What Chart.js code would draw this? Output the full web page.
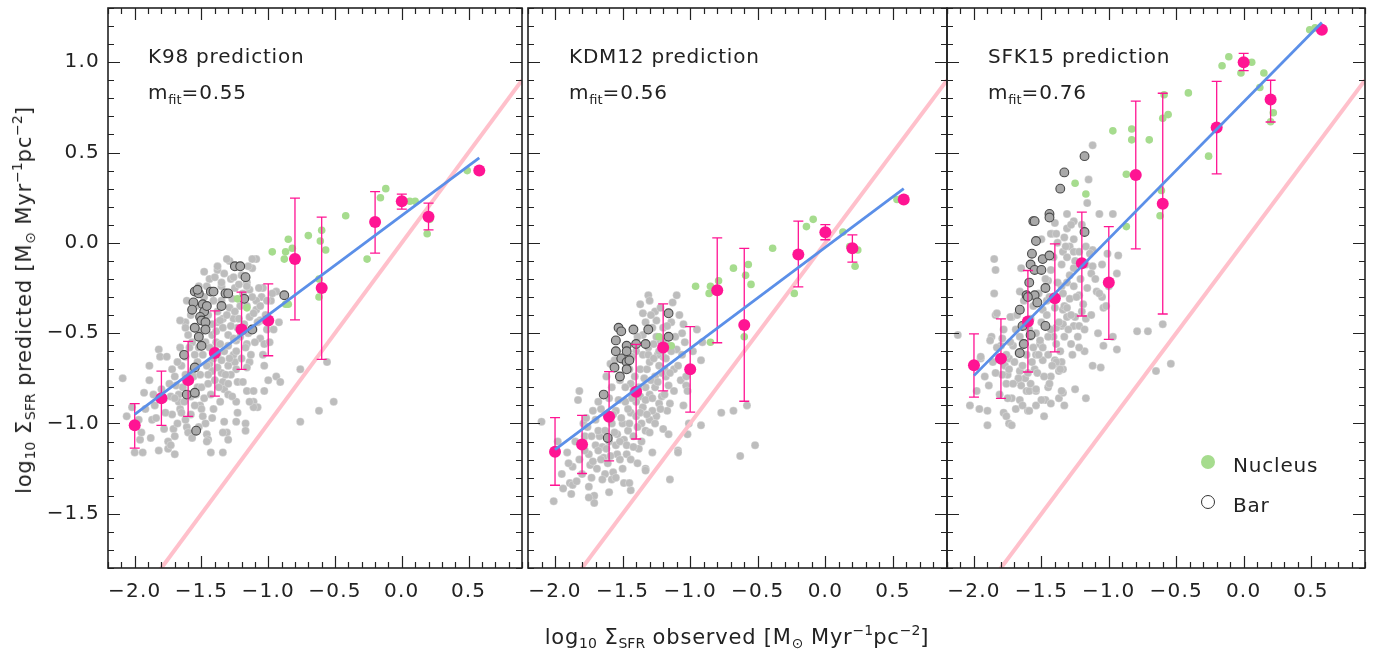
<!DOCTYPE html>
<html><head><meta charset="utf-8">
<script src="https://cdn.jsdelivr.net/npm/chart.js@4.4.1/dist/chart.umd.min.js"></script>
<style>
body{margin:0;background:#fff;}
#wrap{position:relative;width:1384px;height:650px;overflow:hidden;font-family:"DejaVu Sans",sans-serif;color:#222;}
canvas{position:absolute;top:0;}
.t{position:absolute;font-size:20px;line-height:20px;white-space:nowrap;letter-spacing:0.8px;}
.t sub{font-size:13px;vertical-align:-5px;letter-spacing:0;}
.ax{position:absolute;font-size:21px;line-height:21px;white-space:nowrap;letter-spacing:0.8px;}
.ax sub{font-size:14px;vertical-align:-4px;letter-spacing:0;}
.ax sup{font-size:14px;vertical-align:9px;letter-spacing:0;}
.dot{position:absolute;border-radius:50%;}
</style></head>
<body><div id="wrap">
<canvas id="c1" width="530" height="650" style="left:0px"></canvas>
<canvas id="c2" width="440" height="650" style="left:520px"></canvas>
<canvas id="c3" width="444" height="650" style="left:940px"></canvas>
<div class="t" style="left:148px;top:46px">K98 prediction</div>
<div class="t" style="left:148px;top:82px">m<sub>fit</sub>=0.55</div>
<div class="t" style="left:569px;top:46px">KDM12 prediction</div>
<div class="t" style="left:569px;top:82px">m<sub>fit</sub>=0.56</div>
<div class="t" style="left:988px;top:46px">SFK15 prediction</div>
<div class="t" style="left:988px;top:82px">m<sub>fit</sub>=0.76</div>
<div class="dot" style="left:1201px;top:455px;width:14px;height:14px;background:#a6dc8e"></div>
<div class="t" style="left:1233px;top:455px">Nucleus</div>
<div class="dot" style="left:1201px;top:495px;width:12px;height:12px;border:1.3px solid #333;background:#fff"></div>
<div class="t" style="left:1233px;top:495px">Bar</div>
<div class="ax" style="left:737px;top:620px;transform:translateX(-50%)">log<sub>10</sub> Σ<sub>SFR</sub> observed [M<sub>⊙</sub> Myr<sup>−1</sup>pc<sup>−2</sup>]</div>
<div class="ax" style="left:24px;top:300px;transform:translate(-50%,-50%) rotate(-90deg)">log<sub>10</sub> Σ<sub>SFR</sub> predicted [M<sub>⊙</sub> Myr<sup>−1</sup>pc<sup>−2</sup>]</div>
</div>
<script>
// ---- axis ticks ----
const xMajorTicks = [-2.0,-1.5,-1.0,-0.5,0.0,0.5];
const yMajorTicks = [-1.5,-1.0,-0.5,0.0,0.5,1.0];
const xRange = [-2.2, 0.9];
const yRange = [-1.8, 1.3];

// ---- binned means (magenta) ----
const binX = [-2.0,-1.8,-1.6,-1.4,-1.2,-1.0,-0.8,-0.6,-0.2,0.0,0.2,0.58];
const p1Mean = [-1.01,-0.86,-0.76,-0.61,-0.48,-0.43,-0.09,-0.25,0.115,0.23,0.145,0.40];
const p1Hi = [-0.89,-0.71,-0.545,-0.377,-0.273,-0.227,0.248,0.142,0.284,0.27,0.22,null];
const p1Lo = [-1.136,-1.01,-0.961,-0.848,-0.70,-0.625,-0.427,-0.645,-0.057,0.187,0.072,null];
const p2Mean = [-1.157,-1.116,-0.963,-0.824,-0.58,-0.70,-0.262,-0.455,-0.065,0.059,-0.03,0.24];
const p2Hi = [-0.968,-0.955,-0.713,-0.562,-0.338,-0.464,0.028,-0.031,0.12,0.101,0.044,null];
const p2Lo = [-1.342,-1.277,-1.207,-1.086,-0.82,-0.937,-0.553,-0.877,-0.244,0.017,-0.107,null];
const p3Mean = [-0.678,-0.641,-0.436,-0.307,-0.113,-0.22,0.375,0.216,0.639,1.0,0.794,1.18];
const p3Hi = [-0.504,-0.421,-0.153,-0.006,0.17,0.09,0.785,0.828,0.894,1.049,0.90,null];
const p3Lo = [-0.854,-0.861,-0.715,-0.604,-0.405,-0.534,-0.033,-0.394,0.382,0.953,0.669,null];

// ---- fit lines and one-to-one line ----
const fitX = [-2.0, 0.58];
const p1Fit = [-0.95, 0.47];
const p2Fit = [-1.145, 0.30];
const p3Fit = [-0.735, 1.22];
const oneX = [-2.2, 0.9];
const oneY = [-2.2, 0.9];

// ---- panel 1 scatter ----
const p1Grey = [[-2.09,-0.75],[-2.06,-0.96],[-2.02,-0.91],[-2.00,-1.16],[-1.96,-1.09],[-1.95,-1.05],[-1.94,-1.16],[-1.89,-0.68],[-1.89,-0.76],[-1.87,-0.98],[-1.88,-1.08],[-1.85,-0.90],[-1.82,-0.59],[-1.81,-0.63],[-1.82,-1.15],[-1.76,-0.63],[-1.75,-1.10],[-1.75,-1.14],[-1.73,-0.85],[-1.72,-0.95],[-1.71,-1.03],[-1.70,-1.07],[-1.70,-1.17],[-1.69,-0.79],[-1.67,-0.84],[-1.67,-0.88],[-1.66,-0.92],[-1.65,-0.94],[-1.61,-1.02],[-1.60,-1.05],[-1.57,-0.55],[-1.56,-0.47],[-1.54,-0.84],[-1.53,-0.80],[-1.51,-0.90],[-1.50,-0.92],[-1.49,-0.96],[-1.47,-1.00],[-1.46,-1.06],[-1.45,-1.09],[-1.44,-0.67],[-1.42,-0.71],[-1.42,-0.51],[-1.40,-0.59],[-1.39,-0.55],[-1.38,-0.15],[-1.35,-0.72],[-1.34,-0.77],[-1.33,-0.81],[-1.30,-0.84],[-1.29,-0.10],[-1.28,-0.20],[-1.26,-0.62],[-1.25,-0.66],[-1.24,-0.70],[-1.24,-0.88],[-1.23,-0.94],[-1.33,-0.99],[-1.31,-1.05],[-1.30,-1.09],[-1.34,-1.16],[-1.42,-0.97],
[-1.62,-0.44],[-1.60,-0.51],[-1.50,-0.49],[-1.38,-0.44],[-1.45,-0.40],[-1.34,-0.42],[-1.55,-0.62],[-1.45,-0.73],[-1.38,-0.62],[-1.30,-0.68],[-1.28,-0.73],[-1.23,-0.77],[-1.57,-0.71],[-1.65,-0.68],[-1.62,-0.73],[-1.70,-0.86],[-1.77,-0.94],[-1.80,-0.81],[-1.30,-0.51],[-1.24,-0.54],[-1.35,-0.24],[-1.25,-0.25],[-1.21,-0.35],[-1.26,-0.42],[-1.23,-0.47],[-1.35,-0.32],[-1.38,-0.38],
[-1.09,-0.09],[-1.12,-0.14],[-1.04,-0.25],[-1.16,-0.22],[-1.14,-0.26],[-0.94,-0.27],[-1.05,-0.30],[-0.98,-0.32],[-1.09,-0.37],[-1.14,-0.41],[-1.06,-0.43],[-0.92,-0.44],[-1.11,-0.48],[-1.01,-0.48],[-0.96,-0.48],[-1.06,-0.53],[-1.03,-0.56],[-1.16,-0.56],[-1.14,-0.66],[-1.03,-0.68],[-1.16,-0.69],[-0.94,-0.74],[-1.00,-0.76],[-0.91,-0.77],[-1.19,-0.77],[-1.16,-0.82],[-1.11,-0.82],[-1.03,-0.82],[-1.11,-0.88],[-1.08,-0.91],[-0.76,-0.70],[-0.56,-0.66],[-0.51,-0.88],[-0.62,-0.93],
[-0.76,-0.99],[-1.11,-0.91],[-1.17,-1.00],[-1.17,-1.04],[-1.24,-0.99],[-1.14,-0.88],[-1.43,-1.16],[-1.34,-1.05],[-1.46,-1.10],
[-1.31,-0.09],[-1.38,-0.13],[-1.12,-0.09],[-1.15,-0.13],[-1.26,-0.19],[-1.35,-0.22],[-1.22,-0.23],[-1.16,-0.24],[-1.07,-0.25],[-0.97,-0.28],[-1.09,-0.32],[-1.01,-0.32],[-1.11,-0.39],[-1.06,-0.43],[-1.46,-0.24],[-1.52,-0.24],[-1.61,-0.32],[-1.66,-0.43],[-1.62,-0.47],[-1.41,-0.32],[-1.36,-0.43],[-1.29,-0.36],
[-1.78,-0.86],[-1.74,-0.78],[-1.72,-0.70],[-1.70,-0.74],[-1.68,-0.66],[-1.66,-0.58],[-1.64,-0.80],[-1.63,-0.88],[-1.62,-0.63],[-1.60,-0.76],[-1.59,-0.58],[-1.58,-0.85],[-1.58,-0.95],[-1.56,-0.74],[-1.55,-0.90],[-1.53,-0.66],[-1.52,-0.58],[-1.51,-0.73],[-1.50,-0.80],[-1.49,-0.62],[-1.48,-0.86],[-1.47,-0.55],[-1.46,-0.68],[-1.45,-0.78],[-1.44,-0.58],[-1.43,-0.84],[-1.42,-0.45],[-1.41,-0.64],[-1.40,-0.76],[-1.39,-0.49],[-1.38,-0.69],[-1.37,-0.80],[-1.36,-0.56],[-1.35,-0.65],[-1.34,-0.47],[-1.33,-0.60],[-1.32,-0.73],[-1.31,-0.40],[-1.30,-0.57],[-1.29,-0.64],[-1.28,-0.46],[-1.27,-0.31],[-1.26,-0.53],[-1.25,-0.38],[-1.24,-0.60],[-1.22,-0.42],[-1.21,-0.52],[-1.20,-0.64],[-1.19,-0.28],[-1.18,-0.45],[-1.17,-0.58],[-1.16,-0.35],[-1.15,-0.50],[-1.13,-0.62],[-1.12,-0.30],[-1.10,-0.55],[-1.08,-0.44],[-1.06,-0.35],[-1.04,-0.62],[-1.02,-0.40],[-0.99,-0.55],[-1.30,-0.78],[-1.27,-0.85],[-1.36,-0.88],[-1.41,-0.92],[-1.52,-1.02],[-1.57,-1.08],[-1.62,-0.98],[-1.68,-1.00],[-1.73,-1.12],[-1.78,-1.03],[-1.84,-0.97],[-1.86,-0.84],[-1.92,-0.92],[-1.97,-0.98],[-1.93,-0.83],[-1.58,-0.40],[-1.54,-0.35],[-1.48,-0.30],[-1.44,-0.20],[-1.40,-0.19],[-1.33,-0.17],[-1.20,-0.18],[-1.48,-0.16]];
const p1Bar = [[-1.25,-0.13],[-1.17,-0.19],[-1.55,-0.27],[-1.52,-0.28],[-1.43,-0.27],[-1.32,-0.28],[-1.18,-0.31],[-1.56,-0.33],[-1.49,-0.34],[-1.35,-0.35],[-1.57,-0.37],[-1.48,-0.38],[-1.51,-0.41],[-1.50,-0.43],[-1.47,-0.44],[-0.88,-0.29],[-1.55,-0.47],[-1.47,-0.48],[-1.52,-0.52],[-1.50,-0.57],[-1.63,-0.62],[-1.55,-0.69],[-1.61,-0.84],[-1.55,-0.83],[-1.54,-1.04],[-1.21,-0.13],[-1.12,-0.48],[-1.53,-0.26],[-1.46,-0.35],[-1.41,-0.27],[-1.30,-0.28]];
const p1Green = [[0.49,0.40],[-0.12,0.30],[-0.16,0.25],[0.06,0.23],[0.10,0.23],[-0.42,0.15],[0.21,0.13],[0.19,0.05],[-0.26,-0.09],[-0.85,0.02],[-0.70,0.04],[-0.60,0.07],[-0.57,-0.04],[-0.61,0.01],[-0.97,-0.05],[-0.87,-0.05],[-0.82,-0.03],[-0.88,-0.09],[-0.62,-0.20],[-0.62,-0.30],[-0.87,-0.34],[-1.16,-0.36],[-1.23,-0.31],[-0.85,-0.34]];

// ---- panel 2 scatter ----
const p2Grey = [[-2.10,-0.99],[-2.01,-1.43],[-1.94,-1.36],[-1.91,-1.16],[-1.88,-1.39],[-1.89,-1.33],[-1.82,-0.82],[-1.83,-0.87],[-1.79,-1.00],[-1.78,-1.07],[-1.75,-1.17],[-1.74,-1.23],[-1.75,-1.35],[-1.71,-1.40],[-1.73,-1.07],[-1.70,-1.12],[-1.67,-1.07],[-1.65,-1.13],[-1.63,-1.28],[-1.58,-1.31],[-1.57,-1.27],[-1.65,-1.31],[-1.64,-1.19],[-1.54,-1.17],[-1.52,-1.20],[-1.49,-1.09],[-1.54,-1.06],[-1.47,-1.17],[-1.44,-1.20],[-1.49,-1.33],[-1.44,-1.37],[-1.59,-0.67],[-1.56,-0.65],[-1.52,-0.76],[-1.44,-0.78],[-1.48,-0.88],[-1.44,-0.94],[-1.40,-0.96],[-1.35,-0.91],[-1.37,-0.85],[-1.33,-0.80],[-1.30,-0.84],[-1.26,-0.80],[-1.23,-0.89],[-1.25,-0.96],[-1.30,-0.98],[-1.33,-1.04],[-1.33,-1.25],[-1.38,-1.14],[-1.37,-0.70],[-1.32,-0.70],[-1.30,-0.66],[-1.23,-0.68],[-1.35,-0.39],[-1.37,-0.34],[-1.31,-0.29],[-1.30,-0.32],[-1.26,-0.38],[-1.25,-0.43],[-1.35,-0.51],[-1.31,-0.58],[-1.27,-0.56],[-1.22,-0.54],[-1.20,-0.63],[-1.19,-0.70],[-1.77,-0.97],[-1.68,-1.04],
[-1.10,-0.29],[-1.13,-0.33],[-1.14,-0.44],[-1.05,-0.45],[-0.95,-0.48],[-1.06,-0.50],[-0.91,-0.55],[-1.10,-0.59],[-0.92,-0.65],[-1.12,-0.70],[-1.07,-0.76],[-1.03,-0.74],[-1.03,-0.79],[-1.02,-0.82],[-1.16,-0.79],[-1.18,-0.74],[-1.15,-0.89],[-1.17,-0.93],[-1.05,-0.90],[-1.01,-1.00],[-0.92,-1.01],[-0.77,-0.94],[-0.68,-0.93],[-0.58,-0.90],[-1.02,-1.06],[-1.20,-1.03],[-1.16,-1.06],[-1.09,-1.15],[-0.52,-1.12],[-0.63,-1.18],
[-1.09,-1.16],[-1.15,-1.31],[-1.33,-1.26],[-1.45,-1.33],[-1.71,-1.44],[-1.75,-1.41],[-1.87,-1.34],[-1.87,-1.24],
[-1.62,-0.95],[-1.58,-1.00],[-1.55,-0.93],[-1.50,-1.00],[-1.46,-1.04],[-1.42,-1.07],[-1.40,-0.88],[-1.36,-1.00],[-1.28,-0.93],[-1.21,-0.85],[-1.60,-1.10],[-1.68,-1.15],[-1.72,-1.21],[-1.61,-1.22],[-1.55,-1.12],[-1.42,-0.82],[-1.26,-0.74],[-1.45,-0.70],[-1.24,-0.62],[-1.28,-0.47],[-1.20,-0.47],[-1.17,-0.57],[-1.40,-0.60],[-1.35,-0.62],
[-1.85,-1.10],[-1.82,-1.20],[-1.80,-1.28],[-1.78,-1.15],[-1.76,-1.02],[-1.73,-1.30],[-1.70,-0.98],[-1.69,-1.25],[-1.66,-0.92],[-1.66,-1.20],[-1.63,-1.04],[-1.62,-1.14],[-1.60,-0.86],[-1.59,-1.18],[-1.57,-0.95],[-1.56,-1.05],[-1.53,-0.87],[-1.52,-1.10],[-1.51,-0.97],[-1.50,-1.25],[-1.48,-0.80],[-1.47,-1.12],[-1.46,-0.92],[-1.45,-1.00],[-1.43,-0.86],[-1.42,-1.13],[-1.41,-0.74],[-1.39,-1.02],[-1.38,-0.80],[-1.37,-0.94],[-1.36,-1.10],[-1.34,-0.75],[-1.33,-0.87],[-1.32,-0.95],[-1.31,-0.62],[-1.30,-1.05],[-1.29,-0.76],[-1.28,-0.86],[-1.27,-0.64],[-1.26,-1.00],[-1.25,-0.52],[-1.24,-0.77],[-1.23,-0.60],[-1.22,-0.92],[-1.21,-0.72],[-1.20,-0.55],[-1.19,-0.84],[-1.18,-0.64],[-1.17,-0.46],[-1.15,-0.72],[-1.14,-0.60],[-1.12,-0.82],[-1.11,-0.52],[-1.09,-0.68],[-1.08,-0.40],[-1.06,-0.62],[-1.04,-0.55],[-1.00,-0.70],[-0.98,-0.60],[-1.33,-0.44],[-1.29,-0.40],[-1.22,-0.36],[-1.39,-0.52],[-1.43,-0.63],[-1.58,-0.80],[-1.62,-0.74],[-1.68,-0.88],[-1.72,-0.93],[-1.90,-1.22],[-1.95,-1.28],[-1.98,-1.10],[-1.84,-1.32],[-1.60,-1.38],[-1.55,-1.30],[-1.39,-1.22],[-1.28,-1.16]];
const p2Bar = [[-1.53,-0.47],[-1.51,-0.49],[-1.42,-0.48],[-1.31,-0.48],[-1.55,-0.54],[-1.47,-0.57],[-1.40,-0.56],[-1.33,-0.56],[-1.55,-0.60],[-1.47,-0.60],[-1.51,-0.64],[-1.47,-0.66],[-1.45,-0.65],[-1.56,-0.69],[-1.47,-0.70],[-1.52,-0.74],[-1.64,-0.84],[-1.61,-1.08],[-1.16,-0.39],[-1.16,-0.52]];
const p2Green = [[0.53,0.24],[-0.09,0.13],[-0.14,0.09],[-0.39,-0.03],[0.13,0.06],[0.18,-0.02],[0.24,-0.04],[0.22,-0.13],[-0.68,-0.14],[-0.57,-0.12],[-0.59,-0.18],[-0.55,-0.23],[-0.23,-0.28],[-0.96,-0.24],[-0.85,-0.24],[-0.86,-0.28],[-0.79,-0.21],[-0.60,-0.52],[-0.85,-0.55],[-1.14,-0.57],[-1.23,-0.52]];

// ---- panel 3 scatter ----
const p3Grey = [[-2.12,-0.51],[-2.03,-0.90],[-1.96,-0.92],[-1.90,-0.93],[-1.90,-1.01],[-1.89,-0.79],[-1.85,-0.09],[-1.84,-0.15],[-1.85,-0.28],[-1.84,-0.40],[-1.87,-0.52],[-1.88,-0.54],[-1.95,-0.64],[-1.80,-0.57],[-1.77,-0.68],[-1.75,-0.73],[-1.79,-0.73],[-1.74,-0.64],[-1.72,-0.41],[-1.71,-0.57],[-1.78,-0.94],[-1.76,-0.96],[-1.72,-0.86],[-1.74,-1.00],[-1.66,-0.27],[-1.65,-0.14],[-1.67,-0.61],[-1.66,-0.71],[-1.67,-0.76],[-1.65,-0.79],[-1.61,-0.82],[-1.59,-0.82],[-1.60,-0.93],[-1.54,-0.82],[-1.55,-0.70],[-1.54,-0.62],[-1.51,-0.56],[-1.49,-0.65],[-1.47,-0.87],[-1.48,-0.96],[-1.45,-0.80],[-1.43,-0.74],[-1.40,-0.65],[-1.41,-0.52],[-1.45,-0.52],[-1.49,-0.37],[-1.46,-0.32],[-1.45,-0.21],[-1.43,-0.15],[-1.42,0.05],[-1.40,0.11],[-1.34,-0.05],[-1.35,-0.24],[-1.34,-0.37],[-1.35,-0.46],[-1.38,-0.67],[-1.37,-0.71],[-1.37,-0.86],[-1.34,-0.83],[-1.61,-0.43],[-1.59,-0.48],[-1.58,-0.52],[-1.69,-0.48],[-1.64,-0.56],
[-1.07,0.16],[-0.97,0.16],[-1.31,0.16],[-1.26,0.12],[-1.31,0.08],[-1.33,0.03],[-1.29,-0.02],[-1.26,-0.05],[-1.31,-0.08],[-1.22,-0.05],[-1.17,-0.02],[-1.12,-0.04],[-1.26,-0.14],[-1.17,-0.12],[-1.12,-0.13],[-1.13,-0.17],[-0.93,-0.07],[-0.94,-0.17],[-1.31,-0.22],[-1.26,-0.24],[-1.22,-0.29],[-1.29,-0.31],[-1.33,-0.35],[-1.09,-0.27],[-1.05,-0.30],[-1.07,-0.28],[-1.19,-0.34],[-1.04,-0.36],[-1.25,-0.41],[-1.17,-0.42],[-1.31,-0.41],[-1.34,-0.45],[-1.26,-0.46],[-1.22,-0.46],[-0.97,-0.52],[-1.04,-0.57],[-0.94,-0.59],[-1.28,-0.56],[-1.18,-0.60],[-0.79,-0.49],[-0.71,-0.49],[-0.60,-0.45],[-0.54,-0.67],[-0.65,-0.71],[-1.12,-0.68],[-1.06,-0.69],[-1.35,-0.66],[-1.34,-0.70],
[-1.12,0.54],[-1.15,0.35],[-1.01,-0.06],[-1.44,0.15],[-1.28,0.10],[-1.43,0.05],[-1.39,0.05],[-1.83,-0.39],[-1.73,-0.41],
[-1.17,-0.86],[-1.25,-0.81],[-1.35,-0.82],[-1.33,-0.90],[-1.43,-0.89],[-1.50,-0.87],[-1.59,-0.93],[-1.66,-0.87],[-1.72,-1.01],[-1.76,-0.78],[-1.58,-0.78],[-1.54,-0.81],[-1.62,-0.75],[-1.67,-0.75],[-1.74,-0.70],[-1.95,-0.63],[-1.79,-0.53],[-1.52,-0.62],[-1.56,-0.58],[-1.22,-0.58],[-1.39,-0.66],[-1.36,-0.70],[-1.39,-0.47],[-1.51,-0.54],
[-1.86,-0.66],[-1.83,-0.58],[-1.81,-0.84],[-1.78,-0.48],[-1.76,-0.62],[-1.73,-0.55],[-1.71,-0.78],[-1.70,-0.66],[-1.68,-0.40],[-1.66,-0.52],[-1.64,-0.68],[-1.63,-0.32],[-1.61,-0.62],[-1.60,-0.72],[-1.58,-0.42],[-1.57,-0.66],[-1.56,-0.35],[-1.54,-0.50],[-1.53,-0.72],[-1.52,-0.28],[-1.50,-0.44],[-1.49,-0.58],[-1.48,-0.74],[-1.47,-0.20],[-1.46,-0.40],[-1.45,-0.62],[-1.44,-0.30],[-1.43,-0.48],[-1.42,-0.68],[-1.41,-0.08],[-1.40,-0.36],[-1.39,-0.56],[-1.38,-0.22],[-1.37,-0.44],[-1.36,-0.60],[-1.35,-0.12],[-1.34,-0.28],[-1.33,-0.52],[-1.32,-0.02],[-1.31,-0.36],[-1.30,-0.48],[-1.29,-0.18],[-1.28,-0.40],[-1.27,-0.62],[-1.25,-0.10],[-1.24,-0.30],[-1.23,-0.52],[-1.21,-0.20],[-1.20,-0.38],[-1.18,-0.48],[-1.16,-0.25],[-1.14,-0.06],[-1.13,-0.40],[-1.10,-0.20],[-1.08,-0.50],[-1.05,-0.12],[-1.02,-0.35],[-1.00,-0.24],[-1.75,-0.86],[-1.69,-0.92],[-1.84,-0.72],[-1.92,-0.74],[-1.98,-0.82],[-1.64,-0.90],[-1.54,-0.90],[-1.44,-0.78],[-1.50,0.02],[-1.38,0.00],[-1.26,0.02],[-1.20,0.10],[-1.16,0.22]];
const p3Bar = [[-1.18,0.48],[-1.33,0.39],[-1.36,0.30],[-1.44,0.16],[-1.44,0.14],[-1.56,0.12],[-1.55,0.12],[-1.54,0.01],[-1.57,-0.06],[-1.49,-0.09],[-1.58,-0.12],[-1.55,-0.15],[-1.47,-0.25],[-1.59,-0.22],[-1.55,-0.29],[-1.61,-0.29],[-1.18,0.06],[-1.47,-0.46],[-1.60,-0.30],[-1.53,-0.33],[-1.66,-0.37],[-1.58,-0.51],[-1.63,-0.56],[-1.66,-0.61],[-1.64,-0.46],[-1.50,-0.15],[-1.44,-0.07]];
const p3Green = [[0.49,1.18],[0.53,1.19],[-0.16,0.98],[-0.11,1.03],[0.06,1.00],[-0.02,0.94],[0.15,0.94],[0.12,0.86],[0.22,0.72],[0.20,0.67],[-0.41,0.83],[-0.59,0.82],[-0.56,0.71],[-0.60,0.69],[-0.97,0.62],[-0.83,0.63],[-0.83,0.57],[-0.70,0.57],[-1.25,0.33],[-1.17,0.27],[-0.87,0.38],[-0.61,0.29],[-0.62,0.15],[-0.26,0.48],[-0.87,0.09]];

const INK = '#222';
const FONT = {family:'"DejaVu Sans", sans-serif', size:20};
const fmt = v => (Math.abs(v) < 1e-9 ? '0.0' : v.toFixed(1).replace('-', '\u2212'));
const pts = arr => arr.map(([x,y]) => ({x, y}));

const spacing = {
  id: 'spacing',
  beforeDraw(chart) { try { chart.ctx.letterSpacing = '1.2px'; } catch (e) {} }
};

const errBars = {
  id: 'errBars',
  beforeDatasetDraw(chart, args, opts) {
    if (args.index !== 4) return;
    const {ctx, scales:{x, y}} = chart;
    ctx.save();
    ctx.strokeStyle = '#ff1493'; ctx.lineWidth = 1.3;
    opts.xs.forEach((xv, i) => {
      if (opts.hi[i] == null) return;
      const px = x.getPixelForValue(xv), pt = y.getPixelForValue(opts.hi[i]), pb = y.getPixelForValue(opts.lo[i]);
      ctx.beginPath();
      ctx.moveTo(px, pt); ctx.lineTo(px, pb);
      ctx.moveTo(px-5, pt); ctx.lineTo(px+5, pt);
      ctx.moveTo(px-5, pb); ctx.lineTo(px+5, pb);
      ctx.stroke();
    });
    ctx.restore();
  }
};

const frame = {
  id: 'frame',
  afterDraw(chart) {
    const {ctx, chartArea:a, scales:{x, y}} = chart;
    ctx.save();
    ctx.strokeStyle = INK; ctx.lineWidth = 1.2;
    ctx.beginPath();
    for (let k = Math.round(xRange[0]*10); k <= Math.round(xRange[1]*10); k++) {
      const v = k/10, px = Math.round(x.getPixelForValue(v)) + 0.5;
      const major = xMajorTicks.some(m => Math.abs(m - v) < 1e-6);
      const L = major ? 12 : 6;
      ctx.moveTo(px, a.bottom); ctx.lineTo(px, a.bottom - L);
      ctx.moveTo(px, a.top); ctx.lineTo(px, a.top + L);
    }
    for (let k = Math.round(yRange[0]*10); k <= Math.round(yRange[1]*10); k++) {
      const v = k/10, py = Math.round(y.getPixelForValue(v)) + 0.5;
      const major = yMajorTicks.some(m => Math.abs(m - v) < 1e-6);
      const L = major ? 12 : 6;
      ctx.moveTo(a.left, py); ctx.lineTo(a.left + L, py);
      ctx.moveTo(a.right, py); ctx.lineTo(a.right - L, py);
    }
    ctx.stroke();
    ctx.lineWidth = 1.6;
    ctx.strokeRect(a.left, a.top, a.right - a.left, a.bottom - a.top);
    ctx.restore();
  }
};

function panel(id, padL, padR, showY, grey, bar, green, mean, lo, hi, fit) {
  new Chart(document.getElementById(id), {
    type: 'scatter',
    data: { datasets: [
      {data: pts(grey), backgroundColor:'#bdbdbd', borderColor:'rgba(255,255,255,0.5)', borderWidth:0.5, pointRadius:4, order:6},
      {data: pts(bar), backgroundColor:'#a9a9a9', borderColor:'#4a4a4a', borderWidth:1.1, pointRadius:4.4, order:5},
      {data: pts(green), backgroundColor:'#a6dc8e', borderWidth:0, pointRadius:3.8, order:4},
      {data: oneX.map((v,i)=>({x:v, y:oneY[i]})), showLine:true, borderColor:'#ffc0cb', borderWidth:4, pointRadius:0, order:3},
      {data: binX.map((v,i)=>({x:v, y:mean[i]})), backgroundColor:'#ff1493', borderWidth:0, pointRadius:6, order:2},
      {data: fitX.map((v,i)=>({x:v, y:fit[i]})), showLine:true, borderColor:'#5b8fe8', borderWidth:2.8, pointRadius:0, order:1}
    ]},
    options: {
      responsive:false, animation:false, devicePixelRatio:1,
      layout:{padding:{top:8, left:padL, right:padR, bottom:0}},
      plugins:{legend:{display:false}, tooltip:{enabled:false}, errBars:{xs:binX, lo, hi}},
      scales:{
        x:{type:'linear', min:xRange[0], max:xRange[1],
           grid:{display:false, drawTicks:false}, border:{display:false},
           afterBuildTicks: s => { s.ticks = xMajorTicks.map(v => ({value:v})); },
           afterFit: s => { s.height = 82; s.paddingLeft = 0; s.paddingRight = 0; },
           ticks:{color:INK, font:FONT, padding:12, maxRotation:0, autoSkip:false, callback: v => fmt(v)}},
        y:{type:'linear', min:yRange[0], max:yRange[1], display:showY,
           grid:{display:false, drawTicks:false}, border:{display:false},
           afterBuildTicks: s => { s.ticks = yMajorTicks.map(v => ({value:v})); },
           afterFit: s => { if (showY) s.width = 108; s.paddingTop = 0; s.paddingBottom = 0; },
           ticks:{color:INK, font:FONT, padding:8, autoSkip:false, callback: v => fmt(v)}}
      }
    },
    plugins:[spacing, errBars, frame]
  });
}
panel('c1', 0, 8, true, p1Grey, p1Bar, p1Green, p1Mean, p1Lo, p1Hi, p1Fit);
panel('c2', 8, 13, false, p2Grey, p2Bar, p2Green, p2Mean, p2Lo, p2Hi, p2Fit);
panel('c3', 7, 19, false, p3Grey, p3Bar, p3Green, p3Mean, p3Lo, p3Hi, p3Fit);
</script>
</body></html>
